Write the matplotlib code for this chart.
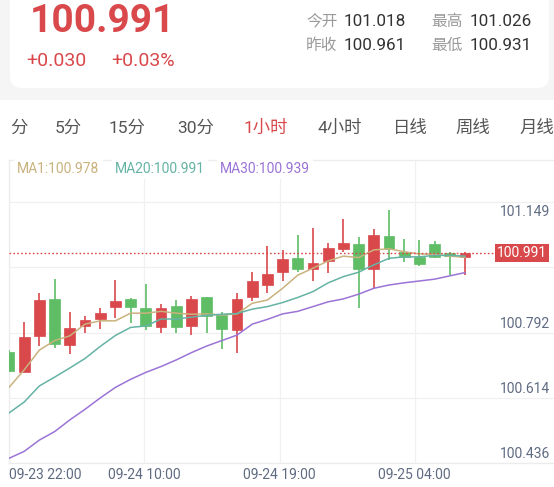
import matplotlib
matplotlib.use("Agg")
import matplotlib.pyplot as plt
from matplotlib.patches import FancyBboxPatch, Rectangle
import matplotlib.transforms as mtransforms
import numpy as np

plt.rcParams['font.family'] = ['Roboto', 'Noto Sans CJK SC', 'DejaVu Sans']

# ---------------- data ----------------
last_price = "100.991"
change_abs = "+0.030"
change_pct = "+0.03%"
stat_labels = ["今开", "昨收", "最高", "最低"]
stat_values = ["101.018", "100.961", "101.026", "100.931"]
tabs = ["分", "5分", "15分", "30分", "1小时", "4小时", "日线", "周线", "月线"]
active_tab = "1小时"
ma_names = ["MA1", "MA20", "MA30"]
ma_last = ["100.978", "100.991", "100.939"]

opens = [100.740, 100.685, 100.783, 100.883, 100.757, 100.810, 100.829, 100.862, 100.884, 100.858,
         100.806, 100.864, 100.810, 100.888, 100.839, 100.800, 100.890, 100.923, 100.957, 100.995,
         100.965, 100.988, 101.020, 101.033, 100.966, 101.055, 101.013, 100.999, 101.034, 101.009,
         100.998]
closes = [100.687, 100.779, 100.881, 100.760, 100.805, 100.825, 100.845, 100.878, 100.861, 100.811,
          100.858, 100.806, 100.884, 100.837, 100.802, 100.883, 100.933, 100.953, 100.993, 100.966,
          100.982, 101.022, 101.038, 100.966, 101.058, 101.020, 100.998, 100.979, 100.999, 101.001,
          101.009]
highs = [100.743, 100.821, 100.899, 100.938, 100.849, 100.838, 100.858, 100.936, 100.887, 100.924,
         100.869, 100.880, 100.892, 100.890, 100.849, 100.901, 100.958, 101.029, 101.018, 101.058,
         101.078, 101.038, 101.103, 101.052, 101.075, 101.127, 101.048, 101.045, 101.043, 101.011,
         101.013]
lows = [100.685, 100.684, 100.756, 100.749, 100.732, 100.790, 100.802, 100.833, 100.819, 100.799,
        100.790, 100.792, 100.784, 100.790, 100.746, 100.735, 100.879, 100.899, 100.934, 100.958,
        100.934, 100.954, 101.013, 100.860, 100.915, 100.990, 100.984, 100.974, 100.995, 100.949,
        100.949]
ma1 = [100.642, 100.690, 100.744, 100.770, 100.783, 100.815, 100.824, 100.824, 100.845, 100.845,
       100.850, 100.845, 100.842, 100.843, 100.840, 100.843, 100.872, 100.881, 100.913, 100.949,
       100.968, 100.988, 101.001, 100.997, 101.018, 101.021, 101.013, 101.007, 101.006, 101.001,
       100.998]
ma20 = [100.572, 100.602, 100.646, 100.670, 100.695, 100.721, 100.754, 100.784, 100.806, 100.810,
        100.829, 100.829, 100.834, 100.839, 100.842, 100.844, 100.856, 100.863, 100.874, 100.888,
        100.904, 100.928, 100.945, 100.957, 100.977, 100.995, 100.999, 100.999, 101.003, 101.003,
        101.001]
ma30 = [100.448, 100.467, 100.498, 100.521, 100.553, 100.582, 100.613, 100.642, 100.664, 100.683,
        100.699, 100.717, 100.737, 100.755, 100.770, 100.785, 100.815, 100.828, 100.843, 100.850,
        100.863, 100.876, 100.884, 100.897, 100.913, 100.922, 100.928, 100.933, 100.938, 100.947,
        100.956]

y_ticks = [100.436, 100.614, 100.792, 100.970, 101.149]
y_tick_labels = ["100.436", "100.614", "100.792", "100.970", "101.149"]
x_tick_pos = [0, 8.88, 17.80, 26.68]
x_tick_labels = ["09-23 22:00", "09-24 10:00", "09-24 19:00", "09-25 04:00"]

# ---------------- style ----------------
RED = "#d9484b"
GREEN = "#5fbd66"
C_MA = ["#c9b27e", "#65b3a4", "#9b74d6"]
AXIS_TXT = "#5f6b82"
GRID = "#f0f0f0"

W, H = 554, 487
fig = plt.figure(figsize=(W / 100, H / 100), dpi=100)
fig.patch.set_facecolor("white")

# background / header axes in pixel coordinates
bg = fig.add_axes([0, 0, 1, 1], zorder=0)
bg.set_xlim(0, W)
bg.set_ylim(H, 0)
bg.axis("off")
bg.add_patch(Rectangle((0, 0), W, 100, fc="#f5f5f5", ec="none"))
bg.add_patch(FancyBboxPatch((10, -30), 539, 118, boxstyle="round,pad=0,rounding_size=12",
                            fc="white", ec="none"))

bg.text(30, 21, last_price, color=RED, fontsize=28, fontweight="bold", va="center", ha="left")
bg.text(26, 61, change_abs, color=RED, fontsize=14, va="center", ha="left")
bg.text(111, 61, change_pct, color=RED, fontsize=14, va="center", ha="left")

lab_x = [306, 306, 431, 431]
val_x = [344, 344, 470, 470]
row_y = [21.5, 45.5, 21.5, 45.5]
for lb, vl, lx, vx, ry in zip(stat_labels, stat_values, lab_x, val_x, row_y):
    bg.text(lx, ry, lb, color="#9a9a9a", fontsize=11.3, va="center", ha="left")
    bg.text(vx, ry, vl, color="#333333", fontsize=12.3, va="center", ha="left")

tab_x = [10, 55, 109, 177, 244, 317, 393, 455, 519]
for t, tx in zip(tabs, tab_x):
    bg.text(tx, 128, t, color=(RED if t == active_tab else "#555555"), fontsize=12.5,
            va="center", ha="left")

# ---------------- chart axes ----------------
top_px, bot_px, left_px = 160, 462.7, 9
ax = fig.add_axes([left_px / W, (H - bot_px) / H, (W - left_px) / W, (bot_px - top_px) / H], zorder=1)
ax.patch.set_alpha(0)
ax.set_xlim(0, (W - left_px) / 15.2)
ax.set_ylim(100.436, 101.2639)

ax.set_yticks(y_ticks)
ax.set_yticklabels([])
ax.set_xticks(x_tick_pos, x_tick_labels)
ax.tick_params(axis="both", length=0)
ax.tick_params(axis="x", pad=4, labelsize=10, labelcolor=AXIS_TXT)
ax.get_xticklabels()[0].set_horizontalalignment("left")
ax.grid(True, color=GRID, lw=0.9)
for s in ["top", "left", "bottom"]:
    ax.spines[s].set_color("#ececec")
    ax.spines[s].set_linewidth(0.9)
ax.spines["right"].set_visible(False)

x = np.arange(len(opens))
o = np.array(opens); c = np.array(closes); hi = np.array(highs); lo = np.array(lows)
up = c >= o
colors = np.where(up, RED, GREEN)
ax.vlines(x, lo, hi, colors=colors, lw=1.2, zorder=3)
body_bottom = np.minimum(o, c)
body_h = np.maximum(np.abs(c - o), 0.0015)
ax.bar(x, body_h, bottom=body_bottom, width=0.72, color=colors, edgecolor=colors, lw=0.5, zorder=3)

for series, col in zip([ma1, ma20, ma30], C_MA):
    ax.plot(x, series, color=col, lw=1.1, zorder=4)

# MA legend (inside the top of the pane, covering the grid)
ma_x = [17, 115, 220]
for nm, v, mx, col in zip(ma_names, ma_last, ma_x, C_MA):
    bg_txt = fig.text(mx / W, 1 - 169 / H, f"{nm}:{v}", color=col, fontsize=10, va="center",
                      ha="left", zorder=10,
                      bbox=dict(boxstyle="square,pad=0.25", fc="white", ec="none"))

# price line and tag
ax.axhline(closes[-1], xmin=0, xmax=(497 - left_px) / (W - left_px), color=RED, lw=1,
           ls=(0, (1.2, 1.6)), zorder=5)

# y labels (inside, right)
ytr = ax.get_yaxis_transform()
xr = (550 - left_px) / (W - left_px)
for v, lb in zip(y_ticks, y_tick_labels):
    if v == max(y_ticks):
        tr = mtransforms.offset_copy(ytr, fig=fig, y=-3, units="dots")
        ax.text(xr, v, lb, transform=tr, ha="right", va="top", fontsize=10, color=AXIS_TXT, zorder=6)
    else:
        tr = mtransforms.offset_copy(ytr, fig=fig, y=2, units="dots")
        ax.text(xr, v, lb, transform=tr, ha="right", va="bottom", fontsize=10, color=AXIS_TXT, zorder=6)

ax.text((547 - left_px) / (W - left_px), closes[-1], last_price, transform=ytr, ha="right",
        va="center", fontsize=10, color="white", zorder=8,
        bbox=dict(boxstyle="square,pad=0.15", fc=RED, ec="none"))

fig.savefig("out.png", dpi=100)
